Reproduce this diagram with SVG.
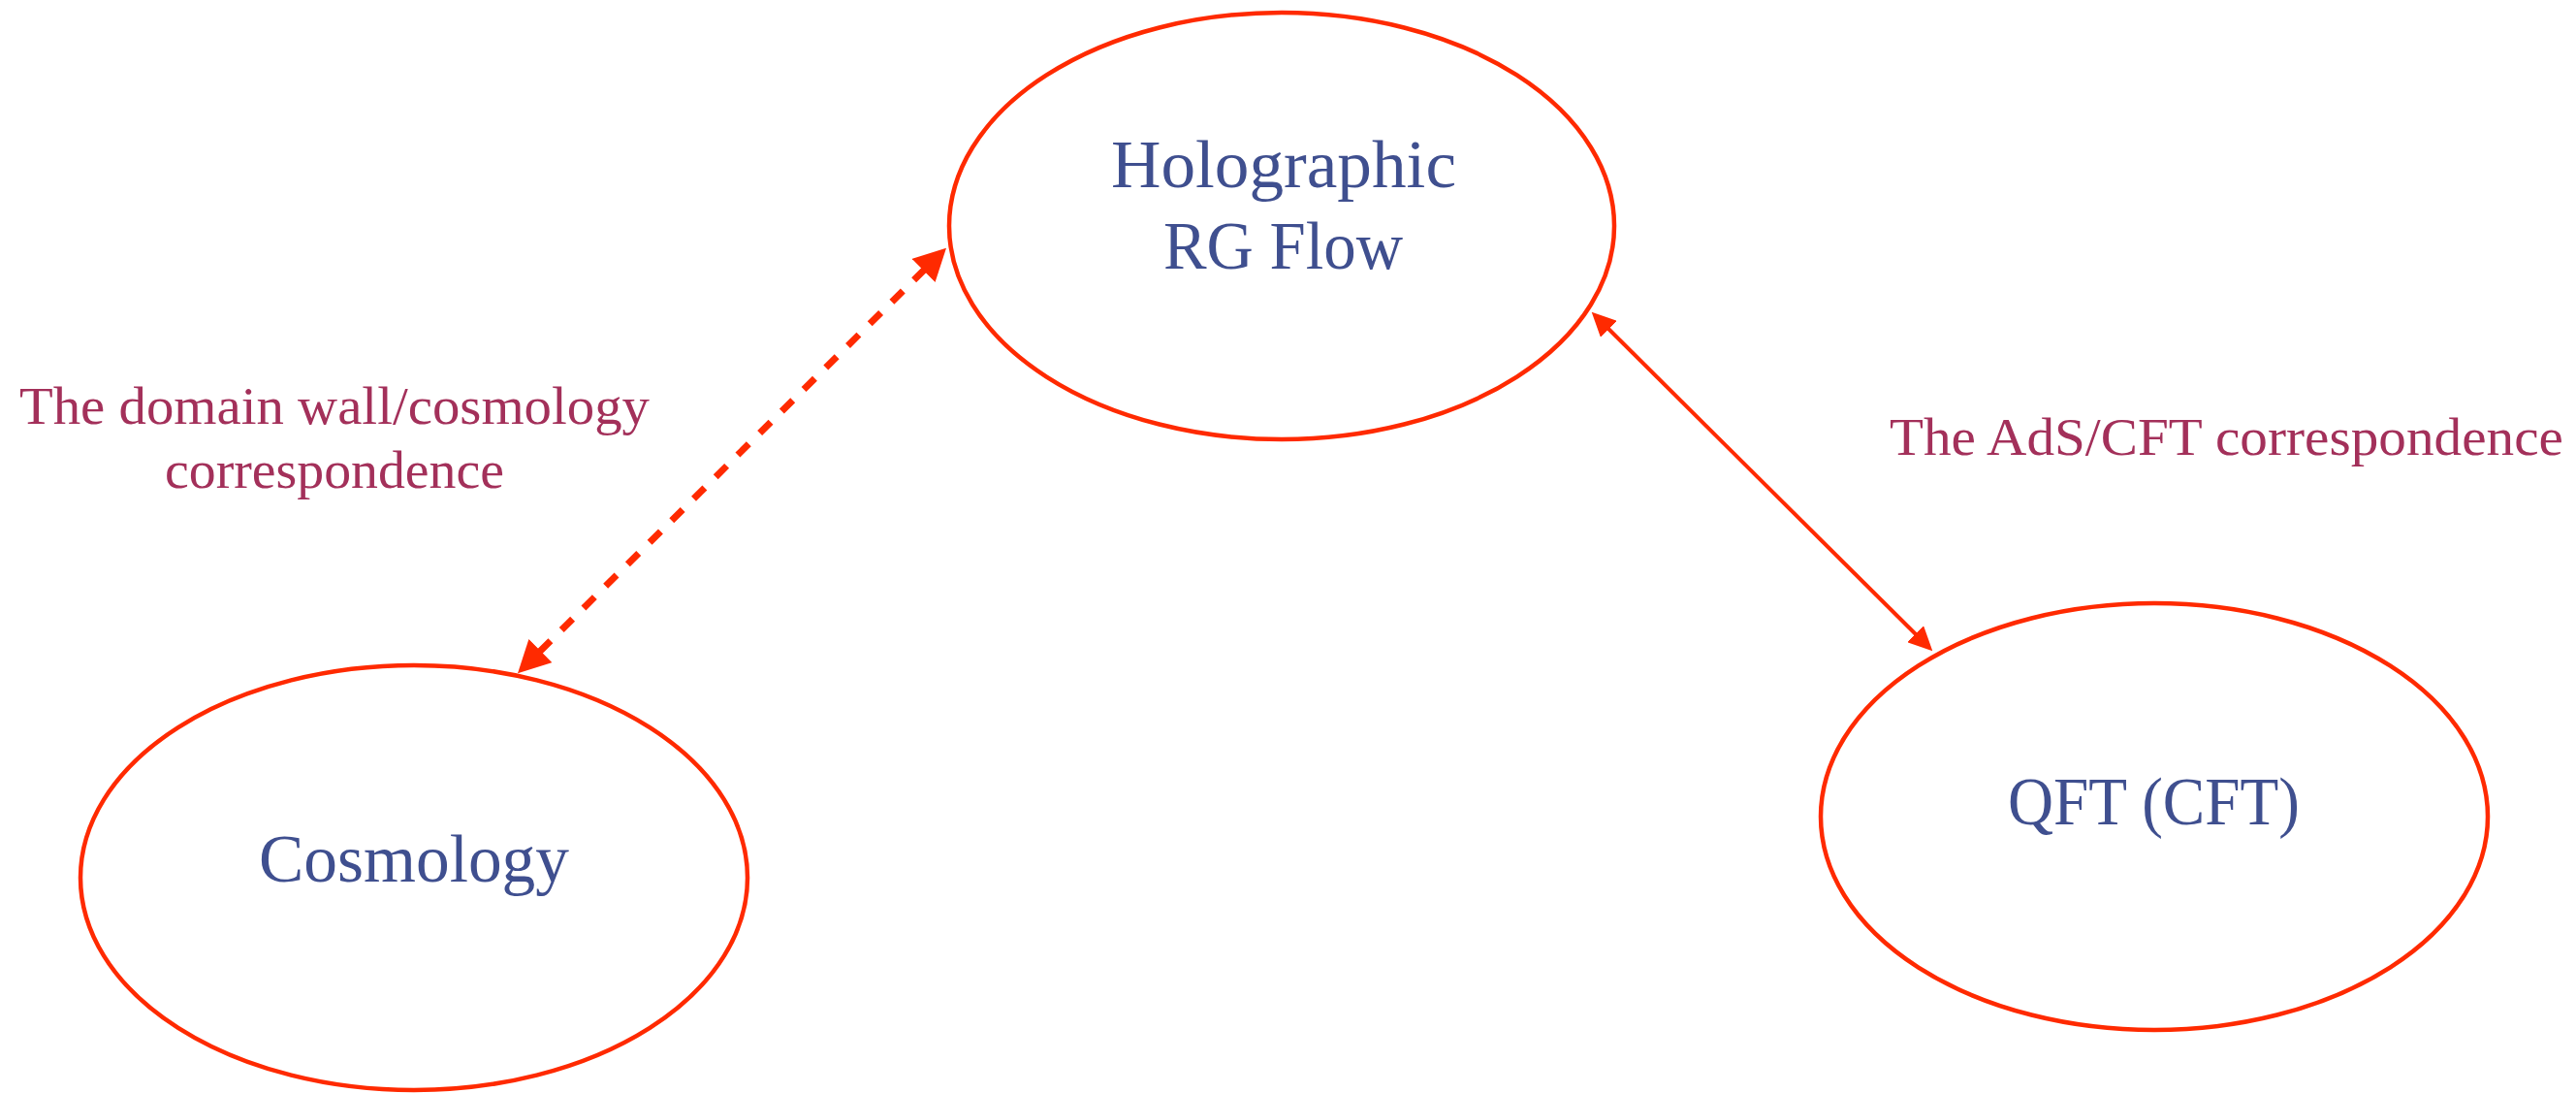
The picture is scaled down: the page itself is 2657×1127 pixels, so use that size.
<svg xmlns="http://www.w3.org/2000/svg" width="2657" height="1127" viewBox="0 0 2657 1127">
  <style>
    .node { fill: #ffffff; stroke: #ff2a00; stroke-width: 4.5; }
    .node-label { font-family: "Liberation Serif", "DejaVu Serif", serif; font-size: 70px; fill: #3f4f8f; }
    .edge-label { font-family: "Liberation Serif", "DejaVu Serif", serif; font-size: 54px; fill: #a3305a; }
    .edge { fill: none; stroke: #ff2a00; }
    .solid { stroke-width: 4; }
    .dashed { stroke-width: 7; stroke-dasharray: 16 16; }
  </style>
  <defs>
    <marker id="head-small" markerUnits="userSpaceOnUse" viewBox="0 0 25 24" refX="2" refY="12" markerWidth="25" markerHeight="24" orient="auto-start-reverse">
      <path d="M0,0 L25,12 L0,24 Z" fill="#ff2a00" stroke="none"/>
    </marker>
    <marker id="head-large" markerUnits="userSpaceOnUse" viewBox="0 0 33 34" refX="2" refY="17" markerWidth="33" markerHeight="34" orient="auto-start-reverse">
      <path d="M0,0 L33,17 L0,34 Z" fill="#ff2a00" stroke="none"/>
    </marker>
  </defs>

  <rect width="2657" height="1127" fill="#ffffff"/>

  <g id="connectors">
    <line class="edge dashed" x1="954" y1="277.5" x2="556" y2="672.5" marker-start="url(#head-large)" marker-end="url(#head-large)"/>
    <line class="edge solid" x1="1658" y1="338" x2="1977" y2="655" marker-start="url(#head-small)" marker-end="url(#head-small)"/>
  </g>

  <g id="node-holographic">
    <ellipse class="node" cx="1322" cy="233" rx="343" ry="220"/>
    <text class="node-label" x="1146" y="193" textLength="356" lengthAdjust="spacingAndGlyphs">Holographic</text>
    <text class="node-label" x="1200" y="277" textLength="247" lengthAdjust="spacingAndGlyphs">RG Flow</text>
  </g>

  <g id="node-cosmology">
    <ellipse class="node" cx="427" cy="905" rx="344" ry="219"/>
    <text class="node-label" x="267" y="909" textLength="320" lengthAdjust="spacingAndGlyphs">Cosmology</text>
  </g>

  <g id="node-qft">
    <ellipse class="node" cx="2222" cy="842" rx="344" ry="220"/>
    <text class="node-label" x="2071" y="850" textLength="301" lengthAdjust="spacingAndGlyphs">QFT (CFT)</text>
  </g>

  <g id="label-domain-wall">
    <text class="edge-label" x="20" y="437" textLength="650" lengthAdjust="spacingAndGlyphs">The domain wall/cosmology</text>
    <text class="edge-label" x="170" y="503" textLength="350" lengthAdjust="spacingAndGlyphs">correspondence</text>
  </g>

  <g id="label-ads-cft">
    <text class="edge-label" x="1949" y="469" textLength="695" lengthAdjust="spacingAndGlyphs">The AdS/CFT correspondence</text>
  </g>
</svg>
